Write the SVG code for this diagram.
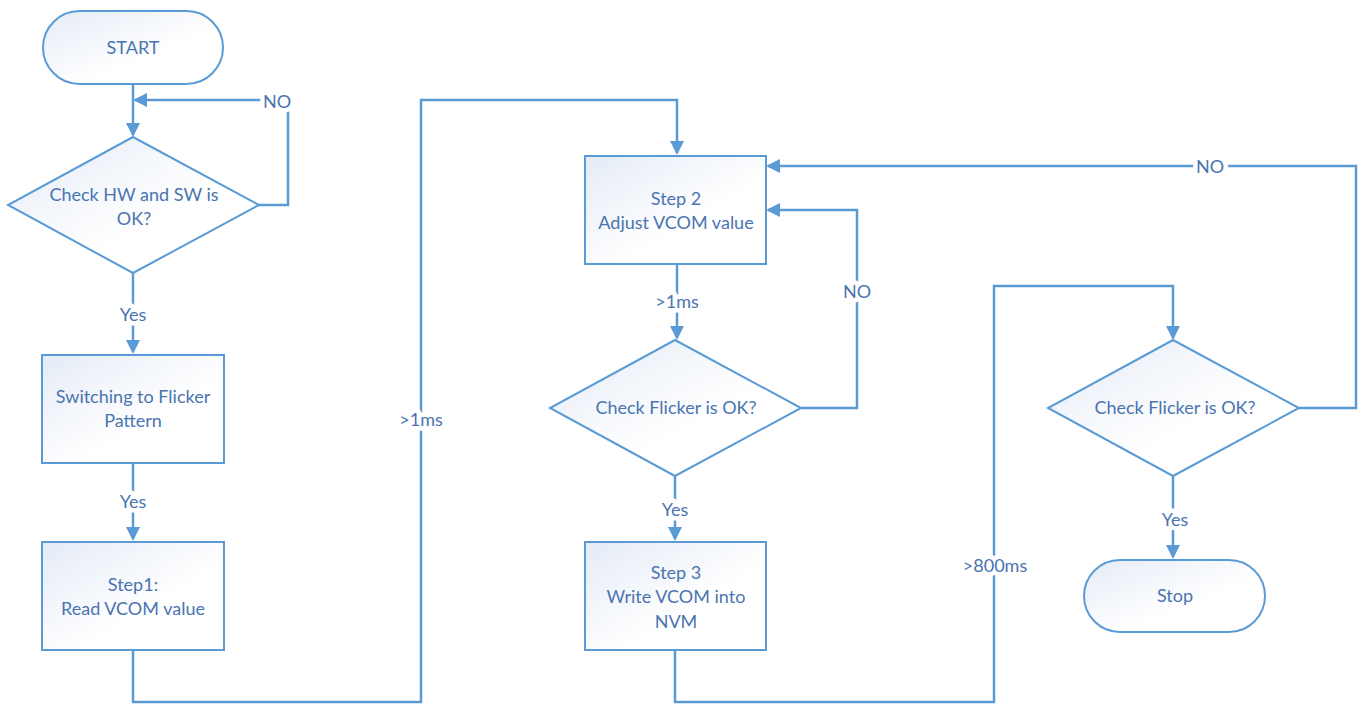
<svg xmlns="http://www.w3.org/2000/svg" width="1363" height="704" viewBox="0 0 1363 704">
<style>
.shape{stroke:#5b9bd5;stroke-width:2;fill:url(#g)}
.c{fill:none;stroke:#5b9bd5;stroke-width:2.5}
text{font-family:Lato,"Liberation Sans",sans-serif;font-size:18px;fill:#4a74b0;text-anchor:middle}
.lbl{stroke:#fff;stroke-width:9;stroke-linejoin:round;paint-order:stroke}
</style>
<defs>
<linearGradient id="g" x1="0" y1="0" x2="1" y2="1">
<stop offset="0" stop-color="#e4ebf6"/>
<stop offset="0.6" stop-color="#ffffff"/>
</linearGradient>
<marker id="a" markerWidth="14" markerHeight="14" refX="12" refY="7" orient="auto" markerUnits="userSpaceOnUse">
<path d="M0,0 L14,7 L0,14 Z" fill="#5b9bd5"/>
</marker>
</defs>
<rect width="1363" height="704" fill="#fff"/>
<g id="connectors">
<path class="c" d="M133,84 V135" marker-end="url(#a)"/>
<path class="c" d="M259,205 H288 V100 H135" marker-end="url(#a)"/>
<path class="c" d="M133,273 V352" marker-end="url(#a)"/>
<path class="c" d="M133,463 V539" marker-end="url(#a)"/>
<path class="c" d="M133,650 V702 H421 V100 H677 V153" marker-end="url(#a)"/>
<path class="c" d="M677,264 V338" marker-end="url(#a)"/>
<path class="c" d="M801,408 H857 V210 H768" marker-end="url(#a)"/>
<path class="c" d="M675,476 V539" marker-end="url(#a)"/>
<path class="c" d="M675,650 V702 H994 V286 H1173 V338" marker-end="url(#a)"/>
<path class="c" d="M1299,408 H1356 V166 H768" marker-end="url(#a)"/>
<path class="c" d="M1173,476 V557" marker-end="url(#a)"/>
<text class="lbl" x="277" y="108">NO</text>
<text class="lbl" x="133" y="321">Yes</text>
<text class="lbl" x="133" y="508">Yes</text>
<text class="lbl" x="421" y="426">&gt;1ms</text>
<text class="lbl" x="677" y="308">&gt;1ms</text>
<text class="lbl" x="857" y="298">NO</text>
<text class="lbl" x="675" y="516">Yes</text>
<text class="lbl" x="995" y="572">&gt;800ms</text>
<text class="lbl" x="1210" y="173">NO</text>
<text class="lbl" x="1175" y="526">Yes</text>
</g>
<g id="start">
<rect class="shape" x="43" y="11" width="180" height="73" rx="36.5"/>
<text x="133" y="54">START</text>
</g>
<g id="check-hw">
<polygon class="shape" points="133,137 259,205 133,273 8,205"/>
<text x="134" y="201">Check HW and SW is</text>
<text x="134" y="225">OK?</text>
</g>
<g id="switch">
<rect class="shape" x="42" y="355" width="182" height="108"/>
<text x="133" y="403">Switching to Flicker</text>
<text x="133" y="427">Pattern</text>
</g>
<g id="step1">
<rect class="shape" x="42" y="542" width="182" height="108"/>
<text x="133" y="591">Step1:</text>
<text x="133" y="615">Read VCOM value</text>
</g>
<g id="step2">
<rect class="shape" x="585" y="156" width="181" height="108"/>
<text x="676" y="205">Step 2</text>
<text x="676" y="229">Adjust VCOM value</text>
</g>
<g id="check-flicker-1">
<polygon class="shape" points="675,340 801,408 675,476 550,408"/>
<text x="676" y="414">Check Flicker is OK?</text>
</g>
<g id="step3">
<rect class="shape" x="585" y="542" width="181" height="108"/>
<text x="676" y="579">Step 3</text>
<text x="676" y="603">Write VCOM into</text>
<text x="676" y="628">NVM</text>
</g>
<g id="check-flicker-2">
<polygon class="shape" points="1173,340 1299,408 1173,476 1048,408"/>
<text x="1175" y="414">Check Flicker is OK?</text>
</g>
<g id="stop">
<rect class="shape" x="1084" y="560" width="181" height="72" rx="36"/>
<text x="1175" y="602">Stop</text>
</g>
</svg>
